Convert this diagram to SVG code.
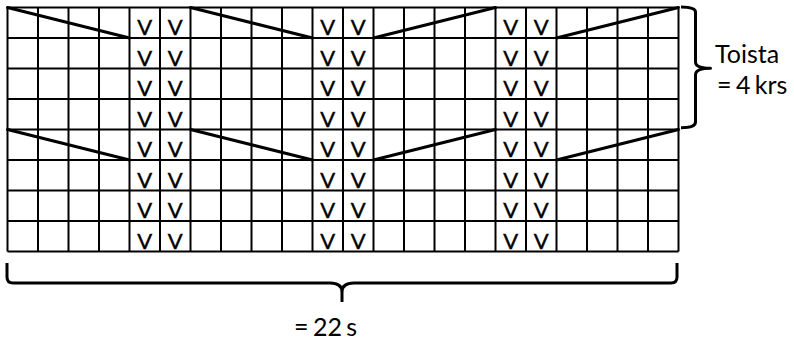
<svg xmlns="http://www.w3.org/2000/svg" width="794" height="345" viewBox="0 0 794 345">
<style>
.g{stroke:#000;stroke-width:2;fill:none}
.d{stroke:#000;stroke-width:3;fill:none;stroke-linecap:round}
.b{stroke:#000;stroke-width:3;fill:none;stroke-linecap:butt;stroke-linejoin:round}
.v{font-family:Lato,"Liberation Sans",sans-serif;font-size:22px;fill:#000;stroke:#000;stroke-width:0.4;text-anchor:middle}
.t{font-family:Lato,"Liberation Sans",sans-serif;font-size:25px;fill:#000;word-spacing:-2px}
</style>
<rect width="794" height="345" fill="#fff"/>
<g id="grid" class="g">
<path d="M7.5 7.5V251.5M38 7.5V251.5M68.5 7.5V251.5M99 7.5V251.5M129.5 7.5V251.5M160 7.5V251.5M190.5 7.5V251.5M221 7.5V251.5M251.5 7.5V251.5M282 7.5V251.5M312.5 7.5V251.5M343 7.5V251.5M373.5 7.5V251.5M404 7.5V251.5M434.5 7.5V251.5M465 7.5V251.5M495.5 7.5V251.5M526 7.5V251.5M556.5 7.5V251.5M587 7.5V251.5M617.5 7.5V251.5M648 7.5V251.5M678.5 7.5V251.5"/>
<path d="M7.5 7.5H678.5M7.5 38H678.5M7.5 68.5H678.5M7.5 99H678.5M7.5 129.5H678.5M7.5 160H678.5M7.5 190.5H678.5M7.5 221H678.5M7.5 251.5H678.5"/>
</g>
<g id="diagonals" class="d">
<path d="M7.5 7.5L129.5 38M190.5 7.5L312.5 38M373.5 38L495.5 7.5M556.5 38L678.5 7.5"/>
<path d="M7.5 129.5L129.5 160M190.5 129.5L312.5 160M373.5 160L495.5 129.5M556.5 160L678.5 129.5"/>
</g>
<g id="marks" class="v">
<text x="144.75" y="35">V</text><text x="175.25" y="35">V</text><text x="327.75" y="35">V</text><text x="358.25" y="35">V</text><text x="510.75" y="35">V</text><text x="541.25" y="35">V</text>
<text x="144.75" y="65.5">V</text><text x="175.25" y="65.5">V</text><text x="327.75" y="65.5">V</text><text x="358.25" y="65.5">V</text><text x="510.75" y="65.5">V</text><text x="541.25" y="65.5">V</text>
<text x="144.75" y="96">V</text><text x="175.25" y="96">V</text><text x="327.75" y="96">V</text><text x="358.25" y="96">V</text><text x="510.75" y="96">V</text><text x="541.25" y="96">V</text>
<text x="144.75" y="126.5">V</text><text x="175.25" y="126.5">V</text><text x="327.75" y="126.5">V</text><text x="358.25" y="126.5">V</text><text x="510.75" y="126.5">V</text><text x="541.25" y="126.5">V</text>
<text x="144.75" y="157">V</text><text x="175.25" y="157">V</text><text x="327.75" y="157">V</text><text x="358.25" y="157">V</text><text x="510.75" y="157">V</text><text x="541.25" y="157">V</text>
<text x="144.75" y="187.5">V</text><text x="175.25" y="187.5">V</text><text x="327.75" y="187.5">V</text><text x="358.25" y="187.5">V</text><text x="510.75" y="187.5">V</text><text x="541.25" y="187.5">V</text>
<text x="144.75" y="218">V</text><text x="175.25" y="218">V</text><text x="327.75" y="218">V</text><text x="358.25" y="218">V</text><text x="510.75" y="218">V</text><text x="541.25" y="218">V</text>
<text x="144.75" y="248.5">V</text><text x="175.25" y="248.5">V</text><text x="327.75" y="248.5">V</text><text x="358.25" y="248.5">V</text><text x="510.75" y="248.5">V</text><text x="541.25" y="248.5">V</text>
</g>
<g id="brace-right" class="b">
<path d="M681 7Q695.5 7 695.5 12V62Q695.5 68.3 710.5 68.3Q695.5 68.3 695.5 75V122Q695.5 127.7 681 127.7"/>
</g>
<g id="brace-bottom" class="b">
<path d="M7 263V277Q7 283 13 283H330Q342 283 342 292V302M342 292Q342 283 354 283H671Q677 283 677 277V263"/>
</g>
<g id="labels" class="t">
<text x="715" y="63">Toista</text>
<text x="717" y="94">= 4 krs</text>
<text x="294" y="336">= 22 s</text>
</g>
</svg>
